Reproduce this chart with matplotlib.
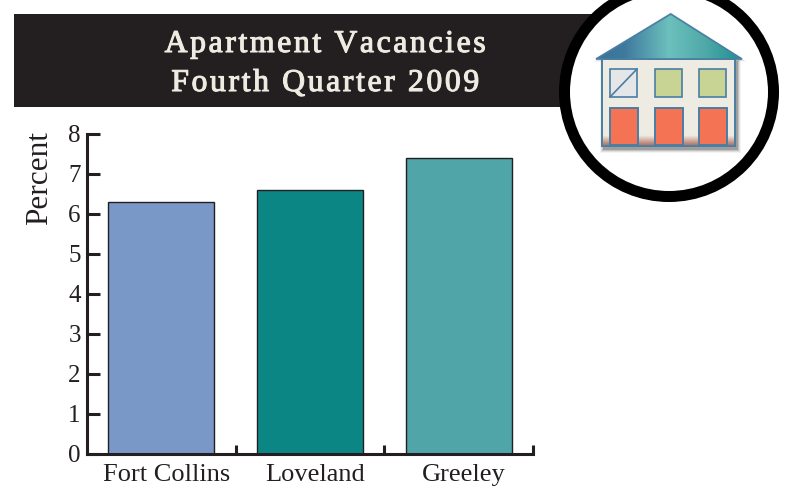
import numpy as np
import matplotlib
matplotlib.use("Agg")
import matplotlib.pyplot as plt
import matplotlib.patheffects as pe
from matplotlib.patches import Rectangle, Polygon, Circle
from matplotlib.transforms import ScaledTranslation

W, H = 785, 492

categories = ["Fort Collins", "Loveland", "Greeley"]
vacancies = [6.3, 6.6, 7.4]
bar_colors = ["#7998c8", "#0c8585", "#50a5a8"]
y_ticks = [0, 1, 2, 3, 4, 5, 6, 7, 8]
title_lines = ["Apartment Vacancies", "Fourth Quarter 2009"]
y_label = "Percent"

plt.rcParams["font.family"] = ["Liberation Serif", "DejaVu Serif"]
dark = "#231f20"

fig = plt.figure(figsize=(W / 100, H / 100), dpi=100)
fig.patch.set_facecolor("white")

# pixel canvas for the banner and the house badge
bg = fig.add_axes([0, 0, 1, 1])
bg.set_xlim(0, W)
bg.set_ylim(H, 0)
bg.axis("off")

bg.add_patch(Rectangle((14, 14), 580, 93, facecolor=dark, edgecolor="none", zorder=1))
for line, y in zip(title_lines, [52, 91]):
    # hair spaces give the wide tracking, the thin stroke the semibold look
    t = bg.text(325, y, "\u200a".join(line), color="#eeebe2", fontsize=22.8,
                ha="center", va="baseline", zorder=2)
    t.set_path_effects([pe.withStroke(linewidth=0.8, foreground="#eeebe2")])

bg.add_patch(Circle((669, 92), 104.5, facecolor="white", edgecolor="black", linewidth=11 * 0.72, zorder=3))

# soft shadow of the house, heavier low and to the right
for grow, alpha in [(4, 0.06), (3, 0.10), (2, 0.16), (1, 0.25)]:
    bg.add_patch(Rectangle((604 - grow, 62 - grow), 133 + 2 * grow, 87 + 2 * grow,
                           facecolor="#333333", edgecolor="none", alpha=alpha, zorder=4))
    bg.add_patch(Polygon([(670.7, 15 - grow), (597 - grow, 60 + grow / 2), (743 + grow, 60 + grow / 2)],
                         facecolor="#777777", edgecolor="none", alpha=alpha / 2, zorder=4))

edge = "#4a7ea3"
bg.add_patch(Rectangle((602, 59), 133, 87, facecolor="#eeebe2", edgecolor=edge, linewidth=1.4, zorder=5))
body_fade = np.linspace(0, 1, 12).reshape(-1, 1)
fade_cmap = matplotlib.colors.LinearSegmentedColormap.from_list("fade", ["#eeebe2", "#b5796a"])
bg.imshow(body_fade, cmap=fade_cmap, extent=(603, 734, 145, 135), aspect="auto", zorder=5.1)

roof_cmap = matplotlib.colors.LinearSegmentedColormap.from_list(
    "roof", [(0, "#3a7399"), (0.2, "#3f7a9e"), (0.5, "#6cc0bd"), (0.75, "#4fa9a8"), (1, "#1f8f90")])
roof = Polygon([(670.7, 14), (596, 59), (742, 59)], facecolor="none", edgecolor=edge, linewidth=1.2, zorder=6)
bg.add_patch(roof)
grad = bg.imshow(np.linspace(0, 1, 256).reshape(1, -1), cmap=roof_cmap, extent=(596, 742, 59, 14),
                 aspect="auto", zorder=5.5)
grad.set_clip_path(roof)

for i, x in enumerate([610, 655, 699]):
    bg.add_patch(Rectangle((x, 69), 27, 28, facecolor="#e4e6e8" if i == 0 else "#c8d494",
                           edgecolor=edge, linewidth=1.2, zorder=6))
    bg.add_patch(Rectangle((x, 108), 27.5, 37, facecolor="#f47355", edgecolor=edge, linewidth=1.4, zorder=6))
bg.plot([610, 637], [97, 69], color=edge, linewidth=1.2, zorder=7)
bg.set_xlim(0, W)
bg.set_ylim(H, 0)

# chart
left, right, top, bottom = 87, 533, 134, 454
ax = fig.add_axes([left / W, 1 - bottom / H, (right - left) / W, (bottom - top) / H])
ax.patch.set_alpha(0)
ax.bar(range(len(categories)), vacancies, width=0.715, color=bar_colors, edgecolor=dark, linewidth=1, zorder=2)
ax.set_xlim(-0.5, 2.5)
ax.set_ylim(0, 8)

ax.spines["top"].set_visible(False)
ax.spines["right"].set_visible(False)
for s in ["left", "bottom"]:
    ax.spines[s].set_linewidth(2.2)
    ax.spines[s].set_color(dark)

ax.set_yticks(y_ticks)
ax.tick_params(axis="y", direction="in", length=9, width=2.2, color=dark, labelsize=18, pad=4.5, labelcolor=dark)
ax.set_xticks([0.5, 1.5, 2.5])
ax.set_xticks(range(len(categories)), minor=True)
ax.set_xticklabels([])
ax.set_xticklabels(categories, minor=True)
ax.tick_params(axis="x", which="major", direction="in", length=6.5, width=2.2, color=dark)
ax.tick_params(axis="x", which="minor", length=0, labelsize=19, pad=7.5, labelcolor=dark)
# labels sit a little right of the bar centres
shift = ScaledTranslation(5 / 100, 0, fig.dpi_scale_trans)
for lab in ax.get_xticklabels(minor=True):
    lab.set_transform(lab.get_transform() + shift)
ax.text(-0.106, 0.8625, y_label, transform=ax.transAxes, rotation=90, fontsize=22.5, color=dark,
        ha="center", va="center")

fig.savefig("out.png", dpi=100)
